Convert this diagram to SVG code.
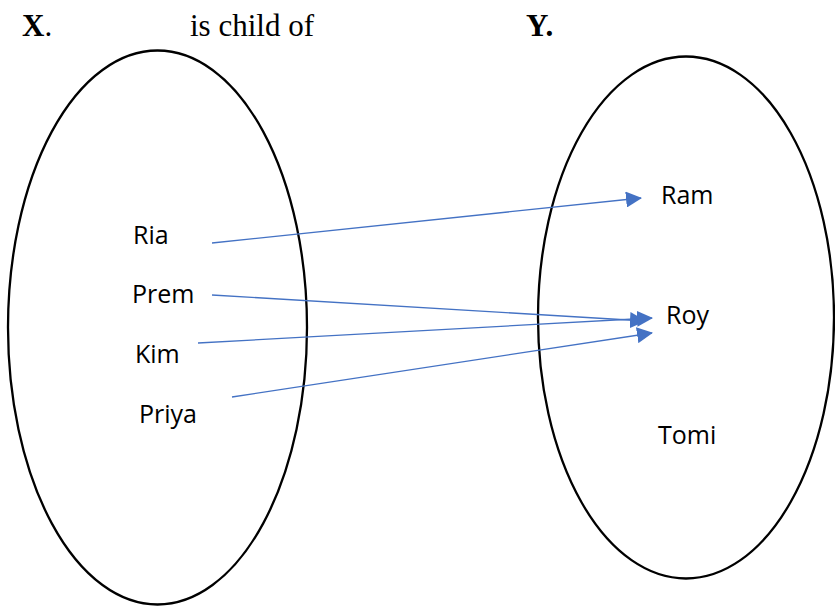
<svg xmlns="http://www.w3.org/2000/svg" width="835" height="607" viewBox="0 0 835 607">
  <style>
    .set { fill: none; stroke: #000; stroke-width: 2.3; }
    .head { font-family: "Liberation Serif", "Times New Roman", serif; font-size: 31px; fill: #000; }
    .b { font-weight: bold; }
    .lbl { font-family: "Open Sans", "Noto Sans", sans-serif; font-size: 25px; fill: #000; }
    .conn line { stroke: #4472C4; stroke-width: 1.3; marker-end: url(#arrow); }
  </style>
  <defs>
    <marker id="arrow" markerUnits="userSpaceOnUse" markerWidth="16" markerHeight="16" viewBox="0 0 16 16" refX="15" refY="8" orient="auto">
      <path d="M0,0 L16,8 L0,16 Z" fill="#4472C4"/>
    </marker>
  </defs>
  <rect width="835" height="607" fill="#fff"/>

  <!-- heading -->
  <text class="head b" x="22" y="36">X<tspan font-weight="normal">.</tspan></text>
  <text class="head" x="190" y="36">is child of</text>
  <text class="head b" x="526" y="36">Y.</text>

  <!-- set X -->
  <g id="setX">
    <ellipse class="set" cx="157.5" cy="327.5" rx="149.5" ry="277"/>
  </g>
  <g id="ria"><text class="lbl" x="133" y="244">Ria</text></g>
  <g id="prem"><text class="lbl" x="132" y="303">Prem</text></g>
  <g id="kim"><text class="lbl" x="135" y="363">Kim</text></g>
  <g id="priya"><text class="lbl" x="139" y="423">Priya</text></g>

  <!-- set Y -->
  <g id="setY">
    <ellipse class="set" cx="686" cy="317.5" rx="148" ry="261"/>
  </g>
  <g id="ram"><text class="lbl" x="661" y="204">Ram</text></g>
  <g id="roy"><text class="lbl" x="666" y="324">Roy</text></g>
  <g id="tomi"><text class="lbl" x="658" y="444">Tomi</text></g>

  <!-- mapping arrows -->
  <g class="conn" id="connectors">
    <line x1="212" y1="243" x2="641" y2="198"/>
    <line x1="212" y1="295" x2="645" y2="321"/>
    <line x1="198" y1="343" x2="652" y2="318"/>
    <line x1="232" y1="397" x2="652" y2="333"/>
  </g>
</svg>
